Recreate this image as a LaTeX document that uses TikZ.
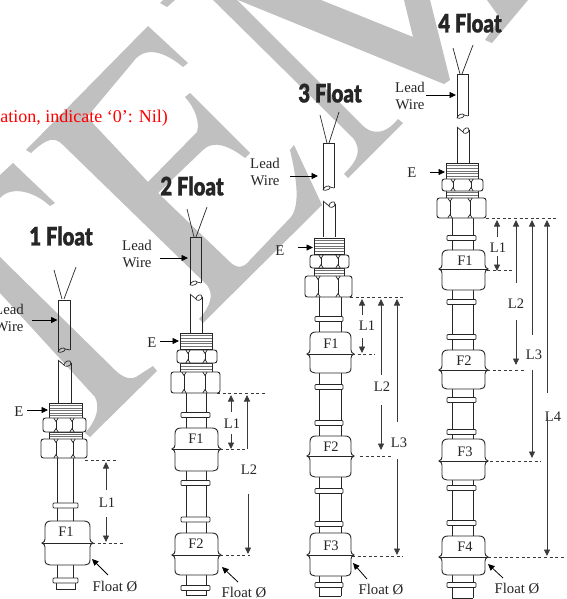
\documentclass[tikz,border=0pt]{standalone}
\usepackage{fontspec}
\setmainfont{Liberation Serif}
\newfontfamily\ttlfont[FakeStretch=0.80,FakeBold=0.8]{Lato Black}
\usetikzlibrary{arrows.meta}
\definecolor{wm}{HTML}{C0C0C0}
\definecolor{ink}{HTML}{262626}
\definecolor{dimc}{HTML}{3A3A3A}
\tikzset{
  wmark/.style={fill=wm,draw=none},
  lab/.style={inner sep=0pt,font=\fontsize{14.8}{17}\selectfont,text=ink,align=center},
  flab/.style={inner sep=0pt,font=\fontsize{14.5}{16}\selectfont,text=ink},
  ttl/.style={inner sep=0pt,text=ink,font=\fontsize{25.5}{28}\ttlfont},
  wline/.style={draw=ink,line width=0.9pt},
  thin line/.style={draw=ink,line width=0.7pt},
  ptr/.style={draw=black,line width=0.8pt,-{Triangle[length=6.5pt,width=6pt]}},
  dimar/.style={draw=dimc,line width=0.8pt,-{Triangle[length=6.5pt,width=6pt]}},
  dash line/.style={draw=dimc,line width=0.8pt,dash pattern=on 3pt off 2.6pt},
}
% wire upper part: xl, xr, ytop, ybot
\newcommand{\WireTop}[4]{
  \draw[wline] (#1,#4) -- (#1,#3) -- (#2,#3) -- (#2,#4-2);
  \draw[thin line] (#1,#4) .. controls (#1+1,#4-4) and (#1+6,#4-5) .. (#1+7,#4-3)
     .. controls (#1+8,#4-1) and (#1+3,#4+1) .. (#1,#4);
  \draw[thin line] (#1+7,#4-3) -- (#2,#4-2);
}
% wire lower part: xl, xr, ytop, ybot
\newcommand{\WireLow}[4]{
  \draw[wline] (#1,#3+1) -- (#1,#4);
  \draw[wline] (#2,#3+3) -- (#2,#4);
  \draw[thin line] (#1,#3) -- (#1+6,#3+5)
     .. controls (#1+6,#3+1) and (#2,#3-1) .. (#2,#3+3)
     .. controls (#2,#3+7) and (#1+6,#3+7) .. (#1+6,#3+5);
}
% thread block: xl, xr, y1, y2, number of lines
\newcommand{\Thread}[5]{
  \fill[white] (#1,#3) rectangle (#2,#4);
  \foreach \i in {1,...,#5} {\draw[draw=black!55,line width=0.6pt] (#1,{#3+\i*(#4-(#3))/(#5+1)}) -- (#2,{#3+\i*(#4-(#3))/(#5+1)});}
  \draw[wline] (#1,#3) rectangle (#2,#4);
}
% nut: xl, xr, y1, y2, xa, xb
\newcommand{\Nut}[6]{
  \draw[wline,fill=white,rounded corners=2.5pt] (#1,#3) rectangle (#2,#4);
  \draw[thin line] (#5,#3+3) -- (#5,#4-3) (#6,#3+3) -- (#6,#4-3);
  \foreach \xx in {#5,#6} {
    \draw[thin line] (\xx-2.2,#3) -- (\xx,#3+3.5) -- (\xx+2.2,#3);
    \draw[thin line] (\xx-2.2,#4) -- (\xx,#4-3.5) -- (\xx+2.2,#4);
  }
}
% rod: xl, xr, y1, y2
\newcommand{\Rod}[4]{\draw[wline] (#1,#3) -- (#1,#4) (#2,#3) -- (#2,#4);}
% collar: xl, xr, yc
\newcommand{\Collar}[3]{\draw[thin line,fill=white,rounded corners=0.8pt] (#1,#3-2.5) rectangle (#2,#3+2.5);}
% float: xl, xr, ytop, yseam, ybot
\newcommand{\FloatBody}[5]{
  \draw[wline,fill=white] (#1+6,#3) -- (#2-6,#3)
    .. controls (#2-2,#3) and (#2,#3+2) .. (#2,#3+6)
    -- (#2,#4-4) .. controls (#2,#4-2) and (#2+1,#4-1) .. (#2+3,#4)
    .. controls (#2+1,#4+1) and (#2,#4+2) .. (#2,#4+4)
    -- (#2,#5-5) .. controls (#2,#5-1.5) and (#2-2,#5) .. (#2-5,#5)
    -- (#1+5,#5) .. controls (#1+2,#5) and (#1,#5-1.5) .. (#1,#5-5)
    -- (#1,#4+4) .. controls (#1,#4+2) and (#1-1,#4+1) .. (#1-3,#4)
    .. controls (#1-1,#4-1) and (#1,#4-2) .. (#1,#4-4)
    -- (#1,#3+6) .. controls (#1,#3+2) and (#1+2,#3) .. (#1+6,#3) -- cycle;
  \draw[wline] (#1-3,#4) -- (#2+3,#4);
}
\begin{document}
\begin{tikzpicture}[x=1pt,y=-1pt]
\useasboundingbox (0,0) rectangle (566,599);
\clip (0,0) rectangle (566,599);
\fill[white] (0,0) rectangle (566,599);
% ---------- watermark ----------
\path[wmark] (0,175) -- (13,163) -- (55,203) -- (50,206)
  .. controls (35,192) and (12,185) .. (0,198) -- cycle;
\path[wmark] (0,257) -- (115,370) .. controls (123,378) and (132,381) .. (139,375)
  -- (153,366) -- (157,371) -- (90,437) -- (85,433)
  .. controls (97,420) and (100,407) .. (95,397) -- (0,293) -- cycle;
\path[wmark] (148,26) -- (188,63) -- (183,67)
  .. controls (165,52) and (145,45) .. (133,62)
  -- (87,117) -- (148,182) -- (197,132)
  .. controls (200,122) and (195,108) .. (185,97) -- (190,93) -- (250,153) -- (245,158)
  .. controls (228,145) and (213,140) .. (203,150)
  -- (158,193) -- (230,262) .. controls (237,269) and (244,268) .. (250,260)
  -- (291,217) .. controls (300,205) and (297,180) .. (290,150) -- (294,145)
  -- (322,205) -- (203,323) -- (199,319)
  .. controls (211,306) and (214,294) .. (207,285)
  -- (63,145) .. controls (55,137) and (48,137) .. (31,153) -- (26,150) -- cycle;
\path[wmark] (213,0) -- (237,0) -- (362,125)
  .. controls (372,135) and (385,135) .. (398,119) -- (403,123) -- (348,178) -- (344,174)
  .. controls (358,160) and (362,150) .. (353,138) -- cycle;
\path[wmark] (238,0) -- (444,84) -- (450,80) -- (430,0) -- (404,0) -- (413,37) -- (321,0) -- cycle;
\path[wmark] (487,0) -- (500,18) -- (485,40) -- (492,43) -- (528,0) -- cycle;
\path[wmark] (160,3) -- (167,7) -- (175,0) -- (163,0) -- cycle;
% ---------- red text ----------
\node[anchor=base east,inner sep=0pt,text=red,font=\fontsize{18}{20}\selectfont] (redtxt) at (168,122.5) {ation, indicate ‘0’: Nil)};
% ---------- column 1 ----------
\draw[thin line] (54,270) -- (62,299) (76,267) -- (64,299);
\WireTop{58}{70}{300}{352}
\WireLow{58}{71}{360}{403}
\Rod{57}{73}{458}{521}
\Collar{53}{78}{505.5}
\Thread{49}{82}{432}{439}{2}
\Thread{49}{82}{403}{418}{5}
\Nut{43}{86}{418}{432}{56}{72}
\Nut{41}{87}{439}{458}{56}{73}
\Rod{57}{73}{565}{580}
\FloatBody{45}{90}{521}{543}{565}
\draw[thin line] (56,581) -- (56,589) -- (75,589) -- (75,581);
\Collar{53}{78}{580.5}
\node[flab] (f11) at (66,532) {F1};
\node[ttl] (t1) at (61,236) {1 Float};
\node[lab] (lw1) at (9,318) {Lead\\Wire};
\node[lab] (e1) at (19,412) {E};
\node[lab] (fl1) at (115,587) {Float Ø};
\node[flab] (l11) at (107,503) {L1};
\draw[ptr] (32,320) -- (57.5,320);
\draw[ptr] (27,410) -- (48,410);
\draw[ptr] (108,575) -- (92,559);
\draw[dash line] (85,460) -- (118,460);
\draw[dash line] (92,543) -- (125,543);
\draw[dimar] (106,490) -- (106,462);
\draw[dimar] (106,517) -- (106,542);
% ---------- column 2 ----------
\draw[thin line] (187,209) -- (194,237) (207,207) -- (196,237);
\WireTop{190}{201}{237}{285}
\WireLow{190}{202}{294}{333}
\Rod{186}{206}{393}{428}
\Collar{181}{210}{415}
\Rod{186}{206}{471}{533}
\Collar{181}{210}{483}
\Collar{181}{210}{519.5}
\Rod{186}{206}{575}{587}
\draw[thin line] (186,590) -- (186,595) -- (206,595) -- (206,590);
\Collar{181}{210}{588}
\Thread{180}{212}{333}{349}{5}
\Thread{180}{212}{363}{372}{2}
\Nut{177}{217}{350}{363}{188}{205}
\Nut{171}{220}{372}{393}{184}{205}
\FloatBody{175}{218}{428}{449}{471}
\FloatBody{175}{218}{533}{555}{575}
\node[flab] (f21) at (196,439) {F1};
\node[flab] (f22) at (196,544) {F2};
\node[ttl] (t2) at (192,186) {2 Float};
\node[lab] (lw2) at (137,254) {Lead\\Wire};
\node[lab] (e2) at (152,343) {E};
\node[lab] (fl2) at (244,592.5) {Float Ø};
\node[flab] (l21) at (232,424) {L1};
\node[flab] (l22) at (249,470) {L2};
\draw[ptr] (160,258) -- (188,258);
\draw[ptr] (160,341) -- (179,341);
\draw[ptr] (238,582) -- (222,567);
\draw[dash line] (217,393) -- (266,393);
\draw[dash line] (220,449) -- (248,449);
\draw[dash line] (220,555) -- (250,555);
\draw[dimar] (231,412) -- (231,395);
\draw[dimar] (231,434) -- (231,449);
\draw[dimar] (247,449) -- (247,395);
\draw[dimar] (248,494) -- (248,554);
% ---------- column 3 ----------
\draw[thin line] (320,115) -- (327,143) (339,112) -- (329,143);
\WireTop{323}{334}{143}{190}
\WireLow{323}{335}{201}{237}
\Rod{319}{341}{297}{332}
\Collar{315}{343}{319}
\Rod{319}{341}{373}{436}
\Collar{315}{343}{387}
\Collar{315}{343}{423}
\Rod{319}{341}{477}{533}
\Collar{315}{343}{491}
\Collar{315}{343}{524}
\Rod{319}{341}{576}{596}
\draw[thin line] (319,596) -- (341,596);
\Collar{315}{343}{585}
\Thread{314}{344}{238}{254}{5}
\Thread{314}{344}{268}{276}{2}
\Nut{310}{349}{255}{268}{321}{338}
\Nut{305}{352}{276}{297}{318}{338}
\FloatBody{310}{351}{332}{354}{373}
\FloatBody{310}{351}{436}{456}{477}
\FloatBody{310}{351}{533}{555}{576}
\node[flab] (f31) at (331,344) {F1};
\node[flab] (f32) at (331,447) {F2};
\node[flab] (f33) at (331,546) {F3};
\node[ttl] (t3) at (330,93) {3 Float};
\node[lab] (lw3) at (265,172) {Lead\\Wire};
\node[lab] (e3) at (280,251) {E};
\node[lab] (fl3) at (381,590) {Float Ø};
\node[flab] (l31) at (367,326) {L1};
\node[flab] (l32) at (382,387) {L2};
\node[flab] (l33) at (399,443) {L3};
\draw[ptr] (290,176) -- (318,176);
\draw[ptr] (298,247.5) -- (313,247.5);
\draw[ptr] (367,579) -- (353,563);
\draw[dash line] (350,297) -- (403,297);
\draw[dash line] (352,354) -- (375,354);
\draw[dash line] (360,456) -- (393,456);
\draw[dash line] (352,556) -- (403,556);
\draw[dimar] (362,315) -- (362,299);
\draw[dimar] (362,338) -- (362,353);
\draw[dimar] (381,375) -- (381,299);
\draw[dimar] (381,405) -- (381,450);
\draw[dimar] (397,422) -- (397,299);
\draw[dimar] (397,459) -- (397,555);
% ---------- column 4 ----------
\draw[thin line] (453,48) -- (460,74) (473,45) -- (462,74);
\WireTop{457}{468}{74}{118}
\WireLow{457}{469}{127}{163}
\Rod{452}{473}{218}{250}
\Collar{447}{476}{238}
\Rod{452}{473}{290}{350}
\Collar{447}{476}{302}
\Collar{447}{476}{337}
\Rod{452}{473}{389}{439}
\Collar{447}{476}{400}
\Collar{447}{476}{432}
\Rod{452}{473}{480}{536}
\Collar{447}{476}{488}
\Collar{447}{476}{523}
\Rod{452}{473}{575}{598}
\draw[thin line] (452,598) -- (473,598);
\Collar{447}{476}{585}
\Thread{446}{478}{163}{179}{5}
\Thread{446}{478}{190}{198}{2}
\Nut{442}{483}{179}{191}{453}{471}
\Nut{437}{486}{198}{218}{450}{470}
\FloatBody{442}{485}{250}{269}{290}
\FloatBody{442}{485}{350}{370}{389}
\FloatBody{442}{485}{439}{461}{480}
\FloatBody{442}{485}{536}{557}{575}
\node[flab] (f41) at (465,261) {F1};
\node[flab] (f42) at (464,361) {F2};
\node[flab] (f43) at (465,452) {F3};
\node[flab] (f44) at (465,547) {F4};
\node[ttl] (t4) at (470,23) {4 Float};
\node[lab] (lw4) at (410,96) {Lead\\Wire};
\node[lab] (e4) at (412,173) {E};
\node[lab] (fl4) at (517,589) {Float Ø};
\node[flab] (l41) at (498,248) {L1};
\node[flab] (l42) at (516,304) {L2};
\node[flab] (l43) at (534,355) {L3};
\node[flab] (l44) at (553,417) {L4};
\draw[ptr] (426,95) -- (456,95);
\draw[ptr] (430,172) -- (445,172);
\draw[ptr] (503,578) -- (488,564);
\draw[dash line] (486,218) -- (557,218);
\draw[dash line] (487,270) -- (512,270);
\draw[dash line] (487,370) -- (526,370);
\draw[dash line] (490,461) -- (541,461);
\draw[dash line] (488,557) -- (566,557);
\draw[dimar] (497,237) -- (497,220);
\draw[dimar] (497,256) -- (497,271);
\draw[dimar] (516,283) -- (516,220);
\draw[dimar] (516,320) -- (516,365);
\draw[dimar] (532,335) -- (532,220);
\draw[dimar] (532,370) -- (532,458);
\draw[dimar] (547,393) -- (547,220);
\draw[dimar] (547,417) -- (547,556);
\end{tikzpicture}
\end{document}
